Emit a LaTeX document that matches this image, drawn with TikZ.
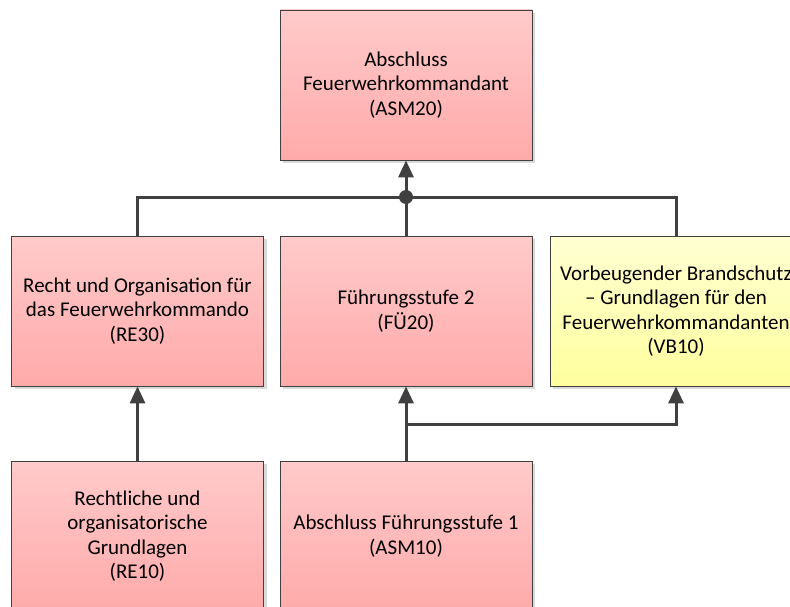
\documentclass[tikz,border=0pt]{standalone}
\usepackage{fontspec}
\setmainfont{Carlito}
\usepackage{tikz}
\usetikzlibrary{arrows.meta,shadows}

\definecolor{pinktop}{HTML}{FFCACA}
\definecolor{pinkbot}{HTML}{FFAAAA}
\definecolor{yellowtop}{HTML}{FFFFD2}
\definecolor{yellowbot}{HTML}{FFFF9E}
\definecolor{linegray}{HTML}{404040}

\begin{document}
\begin{tikzpicture}[
            x = 1pt, y = -1pt,
            > = {Triangle[length=17pt,width=15pt]}, % arrow head style
            link/.style = {draw=linegray, line width=3pt},
            module/.style = {shape=rectangle, draw=linegray, line width=0.8pt,
                minimum width=252pt, minimum height=150pt, align=center,
                font=\fontsize{21}{24.5}\selectfont, text=black,
                top color=pinktop, bottom color=pinkbot,
                drop shadow={shadow xshift=3pt, shadow yshift=-3pt, fill=black!15, opacity=1}},
            optional/.style = {module, top color=yellowtop, bottom color=yellowbot}
        ]
\useasboundingbox (0,0) rectangle (790,607);
\clip (0,0) rectangle (790,607);

\node[module] (ASM20) at (406,85) {Abschluss\\Feuerwehrkommandant\\(ASM20)};
\node[module] (RE30) at (137.5,311) {Recht und Organisation für\\das Feuerwehrkommando\\(RE30)};
\node[module] (FU20) at (406,311) {Führungsstufe 2\\(FÜ20)};
\node[optional] (VB10) at (676,311) {Vorbeugender Brandschutz\\– Grundlagen für den\\Feuerwehrkommandanten\\(VB10)};
\node[module] (RE10) at (137.5,536) {Rechtliche und\\organisatorische\\Grundlagen\\(RE10)};
\node[module] (ASM10) at (406,536) {Abschluss Führungsstufe 1\\(ASM10)};

\coordinate (J) at (406,197);
\coordinate (B) at (406,424);

 \draw[link] (RE30.north) |- (VB10.north |- J) -- (VB10.north);
 \draw[link] (FU20.north) -- (J);
 \draw[link, ->] (J) -- (ASM20.south);
 \fill[linegray] (J) circle (7pt);

 \draw[link, ->] (RE10.north) -- (RE30.south);
 \draw[link, ->] (ASM10.north) -- (FU20.south);
 \draw[link, ->] (B) -| (VB10.south);
\end{tikzpicture}
\end{document}
